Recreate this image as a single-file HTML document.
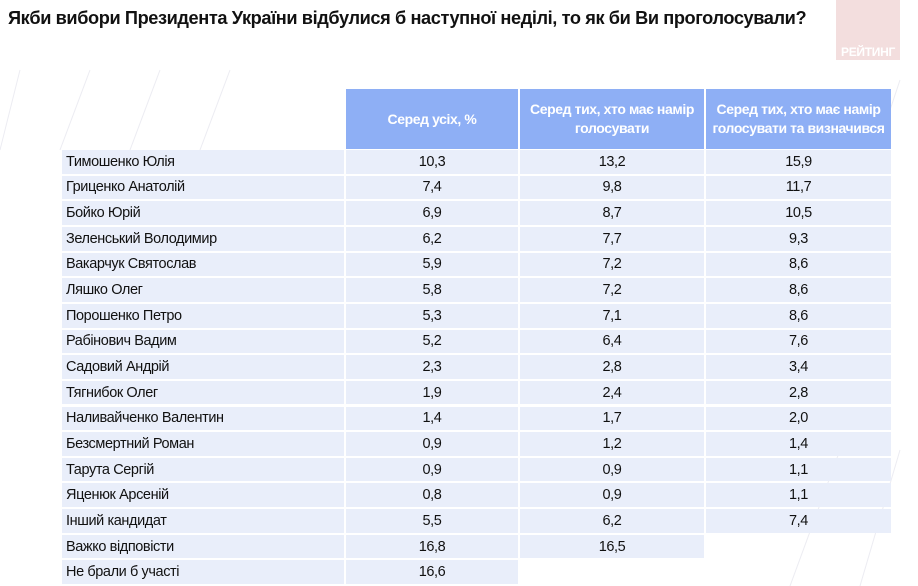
<!DOCTYPE html>
<html><head><meta charset="utf-8"><style>
body{margin:0;width:918px;height:586px;overflow:hidden;background:#fff;font-family:"Liberation Sans",sans-serif;position:relative}
.title{position:absolute;left:8px;top:8px;font-size:18.2px;font-weight:bold;color:#111;letter-spacing:-0.4px;white-space:nowrap}
.logo{position:absolute;left:836px;top:0;width:64px;height:60px;background:#f3dede}
.logo span{position:absolute;bottom:1px;left:0;width:64px;text-align:center;color:#fff;font-weight:bold;font-size:12px;letter-spacing:-0.3px}
.c{position:absolute;box-sizing:border-box;display:flex;align-items:center;font-size:14.5px;color:#111;letter-spacing:-0.4px}
.h{background:#8eaff5;color:#fff;font-weight:bold;justify-content:center;text-align:center;line-height:19px;font-size:14px}
.d{background:#e9eefa;justify-content:center}
.n{background:#e9eefa;padding-left:4px}
</style></head><body>
<svg style="position:absolute;left:0;top:0" width="918" height="586">
<g stroke="#ececf2" stroke-width="1" fill="none">
<line x1="20" y1="70" x2="0" y2="150"/><line x1="90" y1="70" x2="60" y2="150"/><line x1="160" y1="70" x2="130" y2="150"/><line x1="230" y1="70" x2="200" y2="150"/><line x1="880" y1="140" x2="900" y2="80"/><line x1="900" y1="450" x2="860" y2="586"/><line x1="840" y1="450" x2="790" y2="586"/></g></svg>
<div class="title">Якби вибори Президента України відбулися б наступної неділі, то як би Ви проголосували?</div>
<div class="logo"><span>РЕЙТИНГ</span></div>
<div id="t"></div>
<script>
const names=["Тимошенко Юлія","Гриценко Анатолій","Бойко Юрій","Зеленський Володимир","Вакарчук Святослав","Ляшко Олег","Порошенко Петро","Рабінович Вадим","Садовий Андрій","Тягнибок Олег","Наливайченко Валентин","Безсмертний Роман","Тарута Сергій","Яценюк Арсеній","Інший кандидат","Важко відповісти","Не брали б участі"];
const col1=["10,3","7,4","6,9","6,2","5,9","5,8","5,3","5,2","2,3","1,9","1,4","0,9","0,9","0,8","5,5","16,8","16,6"];
const col2=["13,2","9,8","8,7","7,7","7,2","7,2","7,1","6,4","2,8","2,4","1,7","1,2","0,9","0,9","6,2","16,5",""];
const col3=["15,9","11,7","10,5","9,3","8,6","8,6","8,6","7,6","3,4","2,8","2,0","1,4","1,1","1,1","7,4","",""];
const headers=["Серед усіх, %","Серед тих, хто має намір голосувати","Серед тих, хто має намір голосувати та визначився"];
const xs=[62,345,519,705,892];
const t=document.getElementById('t');
function cell(x,y,w,h,cls,txt){const d=document.createElement('div');d.className='c '+cls;d.style.left=x+'px';d.style.top=y+'px';d.style.width=w+'px';d.style.height=h+'px';d.textContent=txt;t.appendChild(d);return d;}
headers.forEach((hd,i)=>{const d=cell(xs[i+1]+1,89,xs[i+2]-xs[i+1]-2,60,'h',hd);

});
const rh=25.65;
names.forEach((nm,r)=>{const y=150+r*rh;
const a=cell(xs[0],y,xs[1]-xs[0]-1,rh-2,'n',nm);


[col1,col2,col3].forEach((col,i)=>{if(col[r]==='')return;const d=cell(xs[i+1]+1,y,xs[i+2]-xs[i+1]-2,rh-2,'d',col[r]);

});});
</script>
</body></html>
